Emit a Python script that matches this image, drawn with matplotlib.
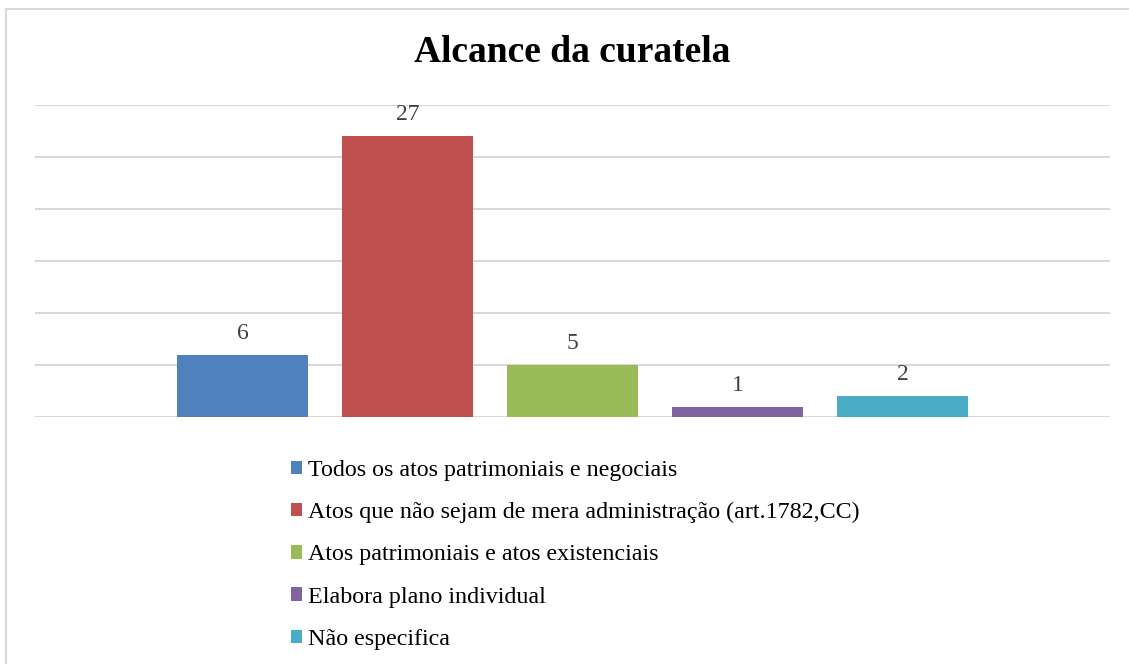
import matplotlib
matplotlib.use("Agg")
import matplotlib.pyplot as plt
from matplotlib.patches import Patch
from matplotlib.lines import Line2D

plt.rcParams['font.family'] = ['Liberation Serif', 'DejaVu Serif']

# Dados
categorias = [
    "Todos os atos patrimoniais e negociais",
    "Atos que não sejam de mera administração (art.1782,CC)",
    "Atos patrimoniais e atos existenciais",
    "Elabora plano individual",
    "Não especifica",
]
valores = [6, 27, 5, 1, 2]
cores = ["#4F81BD", "#C0504D", "#9BBB59", "#8064A2", "#4BACC6"]
titulo = "Alcance da curatela"

W, H = 1129, 664
fig = plt.figure(figsize=(W / 100, H / 100), dpi=100)

# moldura do gráfico (só esquerda e topo visíveis)
fig.add_artist(Line2D([5.5 / W, 5.5 / W], [0, 1 - 8.5 / H],
                      transform=fig.transFigure, color="#d9d9d9", lw=1.5))
fig.add_artist(Line2D([5.5 / W, 1], [1 - 8.5 / H, 1 - 8.5 / H],
                      transform=fig.transFigure, color="#d9d9d9", lw=1.5))

ax = fig.add_axes([35 / W, 1 - 417 / H, (1110 - 35) / W, (417 - 105) / H])
pos = list(range(len(valores)))
ax.bar(pos, valores, width=0.794, color=cores, zorder=3)
for x, v in zip(pos, valores):
    ax.annotate(str(v), (x, v), xytext=(0, 11), textcoords="offset pixels",
                ha="center", va="bottom", fontsize=17, color="#404040")

ax.set_xlim(-1.2576, 5.2576)
ax.set_ylim(0, 30)
ax.set_yticks(range(0, 31, 5))
ax.yaxis.grid(True, color="#d9d9d9", linewidth=1.5, zorder=0)
ax.set_xticks([])
ax.tick_params(left=False, labelleft=False)
for s in ax.spines.values():
    s.set_visible(False)

fig.text(572.5 / W, 1 - 53 / H, titulo, ha="center", va="center",
         fontsize=27, fontweight="bold")

handles = [Patch(facecolor=c, edgecolor="none") for c in cores]
fig.legend(handles, categorias, loc="upper left",
           bbox_to_anchor=(291 / W, 1 - 460 / H), frameon=False,
           fontsize=17.3, handlelength=0.47, handleheight=0.47,
           handletextpad=0.22, labelspacing=0.88, borderpad=0,
           borderaxespad=0)

fig.savefig("out.png", dpi=100)
